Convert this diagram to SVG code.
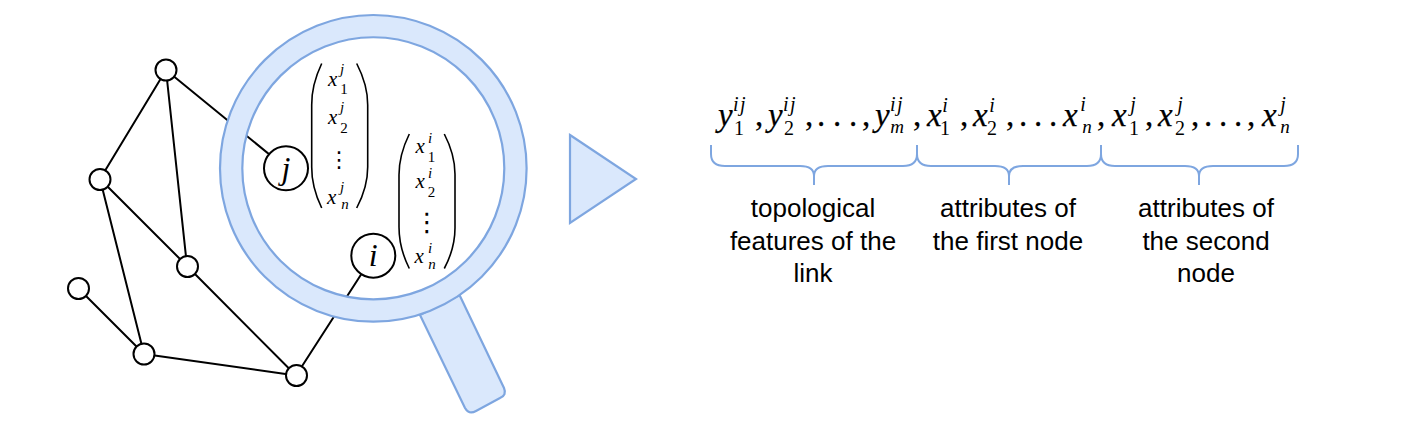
<svg xmlns="http://www.w3.org/2000/svg" width="1412" height="428" viewBox="0 0 1412 428">
<style>
.e{stroke:#000;stroke-width:2;fill:none}
.n{fill:#fff;stroke:#000;stroke-width:2}
.m{fill:#dae8fc;stroke:#7ea6e0;stroke-width:2.2}
.b{fill:none;stroke:#7ea6e0;stroke-width:2}
.p{fill:none;stroke:#000;stroke-width:1.6}
text{fill:#000}
.i{font-family:"Liberation Serif",serif;font-style:italic}
.r{font-family:"Liberation Serif",serif}
.c{text-anchor:middle}
.v{font-family:"DejaVu Sans",sans-serif;text-anchor:middle}
.s{font-size:21px}.t{font-size:15px}
.L{font-size:33px;stroke:#000;stroke-width:.25}.U{font-size:20px}.D{font-size:19px}
.w{letter-spacing:1.5px}
.l{font-family:"Liberation Sans",Arial,sans-serif;font-size:26px;text-anchor:middle}
</style>
<g id="connectors">
<path class="e" d="M166 70L100 179M166 70L187 266M166 70L286 168M100 179L187 266M100 179L144 354M187 266L296 375.500M78 288L144 354M144 354L296 375.500M296 375.500L373 256"/>
</g>
<g id="node-a"><circle class="n" cx="166" cy="70" r="10.500"/></g>
<g id="node-b"><circle class="n" cx="100" cy="179.500" r="10.500"/></g>
<g id="node-c"><circle class="n" cx="187.500" cy="266.500" r="10.500"/></g>
<g id="node-d"><circle class="n" cx="78.500" cy="288.500" r="10.500"/></g>
<g id="node-e"><circle class="n" cx="144" cy="354" r="10.500"/></g>
<g id="node-f"><circle class="n" cx="296.500" cy="375.500" r="10.500"/></g>
<g id="magnifier">
<path class="m" d="M420 315L459.500 295L504 388Q507 395 500 398L476 411Q469 415 465 408Z"/>
<path class="m" fill-rule="evenodd" d="M220 168.300a153.300 153.300 0 1 0 306.600 0a153.300 153.300 0 1 0 -306.600 0ZM242.300 168.300a131 131 0 1 1 262 0a131 131 0 1 1 -262 0Z"/>
</g>
<g id="node-j"><circle class="n" cx="286" cy="168.300" r="22"/><text class="i c" x="286" y="179" font-size="32">j</text></g>
<g id="node-i"><circle class="n" cx="373.300" cy="255.700" r="22"/><text class="i c" x="373.300" y="266" font-size="32">i</text></g>
<g id="vector-j">
<path class="p" d="M321.700 63.500Q311.500 85 311.700 105V167Q311.500 187 321.700 208M356.700 63.500Q367.800 85 367.700 105V167Q367.800 187 356.700 208"/>
<text class="i s" x="328" y="86">x</text><text class="i t c" x="342" y="74">j</text><text class="r t c" x="344" y="94">1</text>
<text class="i s" x="328" y="124">x</text><text class="i t c" x="342" y="112">j</text><text class="r t c" x="344" y="133">2</text>
<text class="v" x="339" y="166.500" font-size="22">⋮</text>
<text class="i s" x="327" y="204">x</text><text class="i t c" x="342" y="192">j</text><text class="i t c" x="345" y="209">n</text>
</g>
<g id="vector-i">
<path class="p" d="M409.300 134Q399 155 399 175V227Q399 248 409.300 268.500M444.300 134Q455.200 155 455 175V227Q455.200 248 444.300 268.500"/>
<text class="i s" x="415.500" y="152.500">x</text><text class="i t c" x="430" y="143">i</text><text class="r t c" x="431.500" y="161.500">1</text>
<text class="i s" x="415.500" y="188">x</text><text class="i t c" x="430" y="178">i</text><text class="r t c" x="431.500" y="197">2</text>
<text class="v" x="427" y="231" font-size="26">⋮</text>
<text class="i s" x="414.500" y="263">x</text><text class="i t c" x="430" y="253">i</text><text class="i t c" x="432" y="269">n</text>
</g>
<g id="arrow"><path class="m" d="M570 135L636 179L570 223Z"/></g>
<g id="sequence">
<text class="i L" x="718" y="126">y</text><text class="i U w" x="733" y="111">ij</text><text class="r U" x="734" y="135">1</text>
<text class="r L" x="755" y="126">,</text>
<text class="i L" x="768" y="126">y</text><text class="i U w" x="783" y="111">ij</text><text class="r U" x="784" y="135">2</text>
<text class="r L" x="805" y="126">,</text>
<text class="r L" x="817" y="126">.</text><text class="r L" x="833" y="126">.</text><text class="r L" x="849" y="126">.</text>
<text class="r L" x="862" y="126">,</text>
<text class="i L" x="875" y="126">y</text><text class="i U w" x="890" y="111">ij</text><text class="i D c" x="897" y="133">m</text>
<text class="r L" x="913" y="126">,</text>
<text class="i L" x="927" y="126">x</text><text class="i U c" x="945" y="112">i</text><text class="r U c" x="945" y="135">1</text>
<text class="r L" x="960" y="126">,</text>
<text class="i L" x="973" y="126">x</text><text class="i U c" x="992" y="112">i</text><text class="r U c" x="992" y="135">2</text>
<text class="r L" x="1006" y="126">,</text>
<text class="r L" x="1019" y="126">.</text><text class="r L" x="1034" y="126">.</text><text class="r L" x="1049" y="126">.</text>
<text class="i L" x="1063" y="126">x</text><text class="i U c" x="1083" y="111">i</text><text class="i D c" x="1087" y="133">n</text>
<text class="r L" x="1097" y="126">,</text>
<text class="i L" x="1112" y="126">x</text><text class="i U c" x="1133" y="111">j</text><text class="r U c" x="1134" y="135">1</text>
<text class="r L" x="1145" y="126">,</text>
<text class="i L" x="1158" y="126">x</text><text class="i U c" x="1180" y="111">j</text><text class="r U c" x="1180" y="135">2</text>
<text class="r L" x="1191" y="126">,</text>
<text class="r L" x="1204" y="126">.</text><text class="r L" x="1219" y="126">.</text><text class="r L" x="1234" y="126">.</text>
<text class="r L" x="1247" y="126">,</text>
<text class="i L" x="1262" y="126">x</text><text class="i U c" x="1283" y="111">j</text><text class="i D c" x="1285" y="133">n</text>
</g>
<g id="brace-1"><path class="b" d="M711 145V154Q711 166 725 166H800Q814 166 814 176V185M814 176Q814 166 828 166H903Q917 166 917 154V145"/></g>
<g id="brace-2"><path class="b" d="M917 145V154Q917 166 931 166H995Q1009 166 1009 176V185M1009 176Q1009 166 1023 166H1087Q1101 166 1101 154V145"/></g>
<g id="brace-3"><path class="b" d="M1101 145V154Q1101 166 1115 166H1185Q1199 166 1199 176V185M1199 176Q1199 166 1213 166H1284Q1298 166 1298 154V145"/></g>
<g id="label-1"><text class="l" x="813" y="217">topological</text><text class="l" x="813" y="250">features of the</text><text class="l" x="813" y="282">link</text></g>
<g id="label-2"><text class="l" x="1008" y="217">attributes of</text><text class="l" x="1008" y="250">the first node</text></g>
<g id="label-3"><text class="l" x="1206" y="217">attributes of</text><text class="l" x="1206" y="250">the second</text><text class="l" x="1206" y="282">node</text></g>
</svg>
